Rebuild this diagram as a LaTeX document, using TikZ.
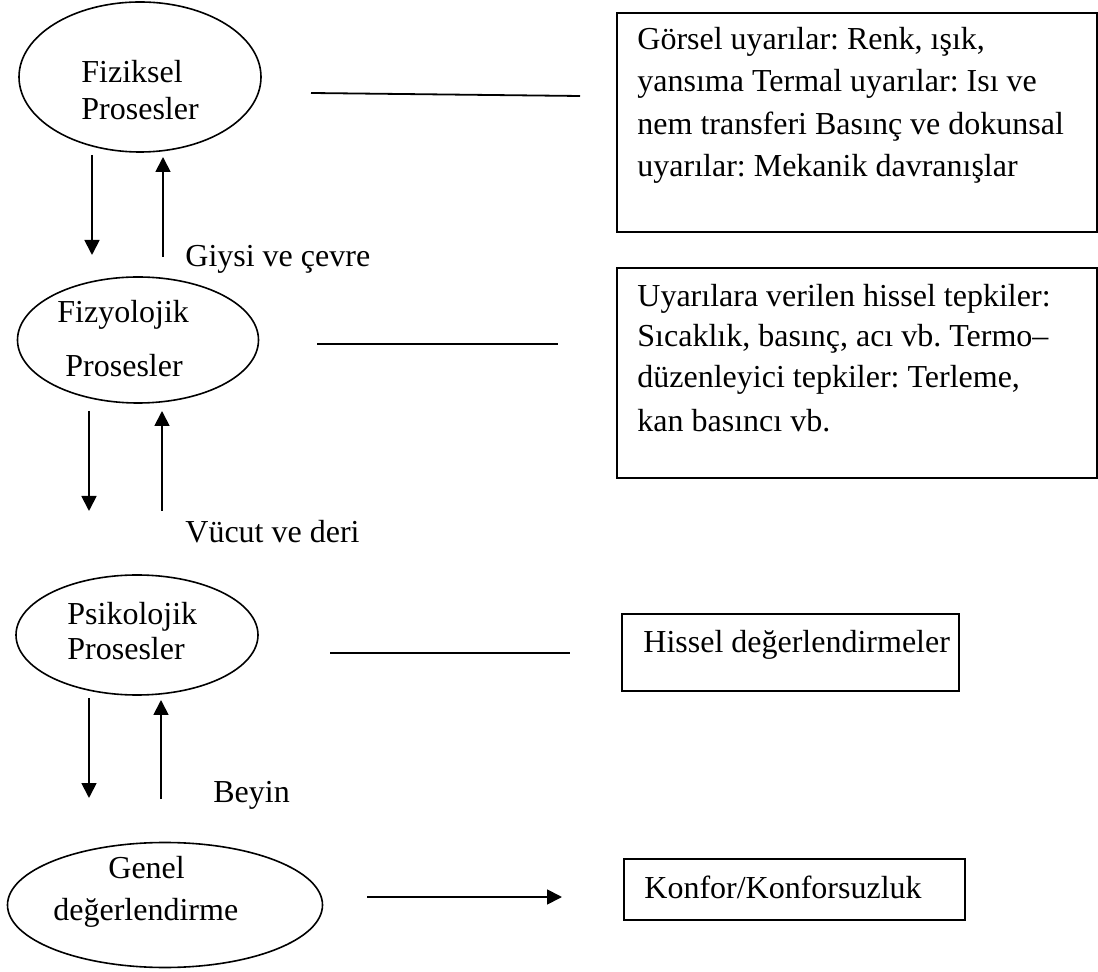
\documentclass[tikz,border=0pt]{standalone}
\usepackage{fontspec}
\setmainfont{Liberation Serif}
\frenchspacing
\usetikzlibrary{arrows.meta,shapes.geometric}

\begin{document}
\begin{tikzpicture}[x=0.5pt,y=-0.5pt,
  proc/.style={draw,ellipse,line width=0.8pt,inner sep=0pt},
  infobox/.style={draw,rectangle,line width=0.9pt,inner sep=0pt,anchor=north west},
  txt/.style={anchor=base west,inner sep=0pt,font=\fontsize{16}{20}\selectfont},
  link/.style={line width=0.9pt},
  flow/.style={line width=0.9pt,-{Triangle[width=7.5pt,length=7.5pt]}}]
\useasboundingbox (0,0) rectangle (1098,972);

\node[proc,minimum width=121pt,minimum height=75pt] (fiz) at (140,77) {};
\node[proc,minimum width=120.5pt,minimum height=63pt] (fizyo) at (138,340) {};
\node[proc,minimum width=121pt,minimum height=60pt] (psi) at (137,635) {};
\node[proc,minimum width=157.5pt,minimum height=62.5pt] (gen) at (165,905) {};

\node[txt] (fiza) at (81,83) {Fiziksel};
\node[txt] (fizb) at (81,120) {Prosesler};
\node[txt] (fizyoa) at (57,323) {Fizyolojik};
\node[txt] (fizyob) at (65,377) {Prosesler};
\node[txt] (psia) at (67,625) {Psikolojik};
\node[txt] (psib) at (67,660) {Prosesler};
\node[txt] (gena) at (108,878) {Genel};
\node[txt] (genb) at (53,920) {değerlendirme};

\node[txt] (giysi) at (185,267) {Giysi ve çevre};
\node[txt] (vucut) at (185,543) {Vücut ve deri};
\node[txt] (beyin) at (213,802) {Beyin};

\node[infobox,minimum width=240pt,minimum height=109.5pt] (gorsel) at (616,12) {};
\node[txt] (gorsela) at (637,50) {Görsel uyarılar: Renk, ışık,};
\node[txt] (gorselb) at (637,92) {yansıma Termal uyarılar: Isı ve};
\node[txt] (gorselc) at (637,135) {nem transferi Basınç ve dokunsal};
\node[txt] (gorseld) at (637,177) {uyarılar: Mekanik davranışlar};

\node[infobox,minimum width=240pt,minimum height=105pt] (tepki) at (616,267) {};
\node[txt] (tepkia) at (637,307) {Uyarılara verilen hissel tepkiler:};
\node[txt] (tepkib) at (637,347) {Sıcaklık, basınç, acı vb. Termo–};
\node[txt] (tepkic) at (637,388) {düzenleyici tepkiler: Terleme,};
\node[txt] (tepkid) at (637,432) {kan basıncı vb.};

\node[infobox,minimum width=168.5pt,minimum height=38.5pt] (hissel) at (621,613) {};
\node[txt] (hissela) at (643,653) {Hissel değerlendirmeler};

\node[infobox,minimum width=170.5pt,minimum height=30.5pt] (konfor) at (623,858) {};
\node[txt] (konfora) at (644,898) {Konfor/Konforsuzluk};

\coordinate (fizr) at (311,93);
\coordinate (gorl) at (580,96);
\coordinate (fizyor) at (317,344);
\coordinate (tepl) at (558,344);
\coordinate (psir) at (330,653);
\coordinate (hisl) at (570,653);
\coordinate (genr) at (367,897);
\coordinate (konl) at (562,897);

\coordinate (d1a) at (92,155);
\coordinate (d1b) at (92,255);
\coordinate (u1a) at (163,257);
\coordinate (u1b) at (163,157);
\coordinate (d2a) at (89,411);
\coordinate (d2b) at (89,511);
\coordinate (u2a) at (162,511);
\coordinate (u2b) at (162,411);
\coordinate (d3a) at (89,698);
\coordinate (d3b) at (89,798);
\coordinate (u3a) at (161,799);
\coordinate (u3b) at (161,700);

\draw[link] (fizr) -- (gorl);
\draw[link] (fizyor) -- (tepl);
\draw[link] (psir) -- (hisl);
\draw[flow] (genr) -- (konl);

\draw[flow] (d1a) -- (d1b);
\draw[flow] (u1a) -- (u1b);
\draw[flow] (d2a) -- (d2b);
\draw[flow] (u2a) -- (u2b);
\draw[flow] (d3a) -- (d3b);
\draw[flow] (u3a) -- (u3b);
\end{tikzpicture}
\end{document}
